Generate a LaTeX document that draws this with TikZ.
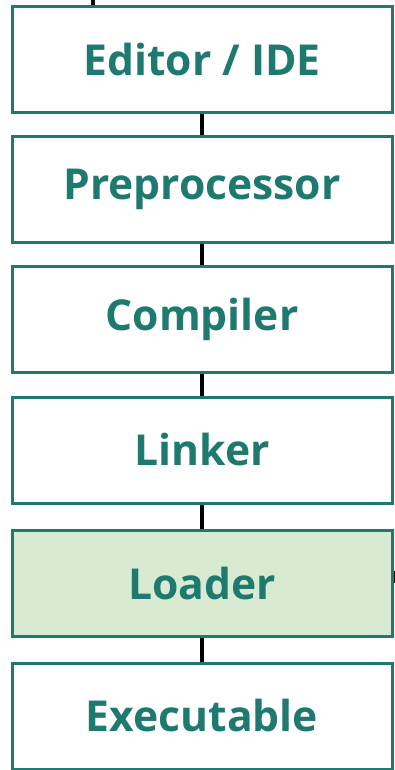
\documentclass[tikz,border=0pt]{standalone}
\usepackage{fontspec}
\setmainfont{Open Sans}
\definecolor{teal}{HTML}{1E7A6E}
\definecolor{loadfill}{HTML}{D9EAD3}
\begin{document}
\begin{tikzpicture}[x=1pt,y=1pt,
  stage/.style={draw=teal, line width=3pt, fill=white, minimum width=380pt,
    minimum height=106pt, inner sep=0pt, text=teal,
    font=\fontsize{42.6}{48}\selectfont\bfseries},
  link/.style={draw=black, line width=3.5pt}]
\useasboundingbox (0,0) rectangle (394,-770);
\node[stage] (edit) at (202,-59.5) {Editor / IDE};
\node[stage] (pre)  at (202,-189.5) {Preprocessor};
\node[stage] (comp) at (202,-319.5) {Compiler};
\node[stage] (link) at (202,-450) {Linker};
\node[stage, fill=loadfill] (load) at (202,-583.5) {Loader};
\node[stage] (exe)  at (202,-716) {Executable};
\coordinate (in) at (93,2);
\coordinate (out) at (397,-577);
\draw[link] (in) -- (in |- edit.north);
\draw[link] (edit.south) -- (pre.north);
\draw[link] (pre.south) -- (comp.north);
\draw[link] (comp.south) -- (link.north);
\draw[link] (link.south) -- (load.north);
\draw[link] (load.south) -- (exe.north);
\draw[link, line width=12pt] (load.east |- out) -- (out);
\end{tikzpicture}
\end{document}
